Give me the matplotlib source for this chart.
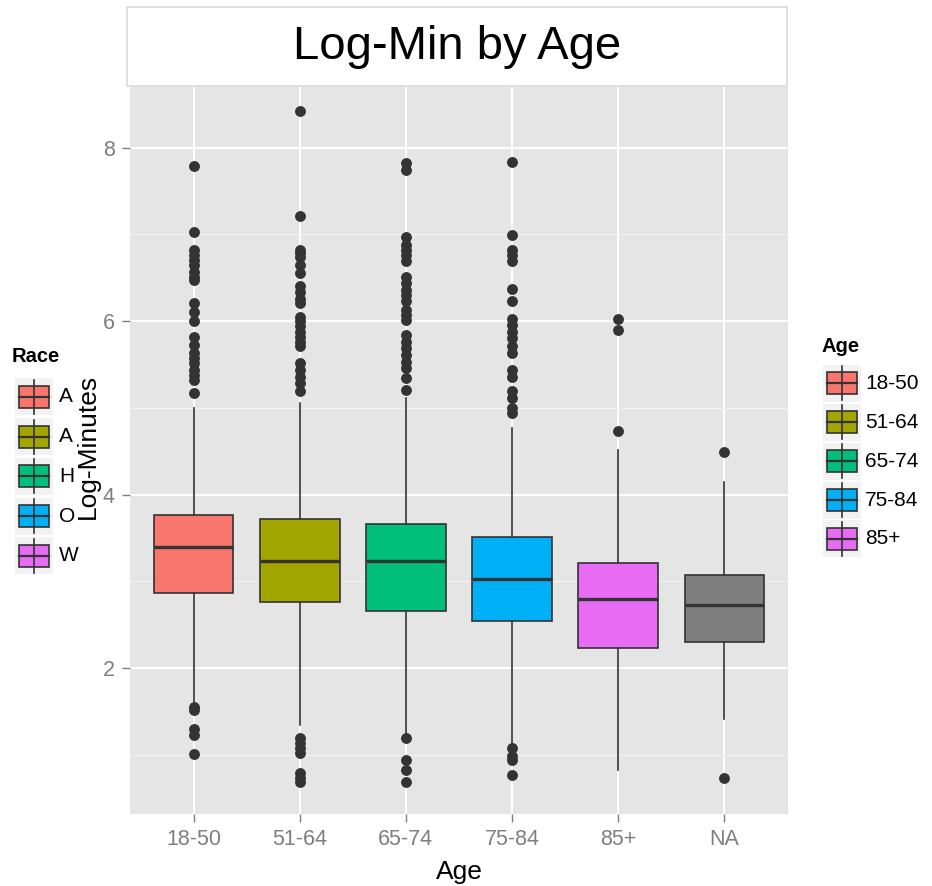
import matplotlib
matplotlib.use("Agg")
import matplotlib.pyplot as plt
from matplotlib.patches import Rectangle
from matplotlib.ticker import FixedLocator

plt.rcParams['font.family'] = ['Liberation Sans', 'DejaVu Sans']

# ---------------- data ----------------
categories = ["18-50", "51-64", "65-74", "75-84", "85+", "NA"]
q1 = [2.87, 2.76, 2.66, 2.54, 2.23, 2.30]
median = [3.40, 3.23, 3.23, 3.03, 2.79, 2.73]
q3 = [3.76, 3.72, 3.66, 3.51, 3.21, 3.07]
whisker_low = [1.60, 1.34, 1.25, 1.11, 0.82, 1.41]
whisker_high = [5.00, 5.06, 5.11, 4.77, 4.51, 4.15]

outliers_18_50 = [7.79, 7.03, 6.82, 6.76, 6.70, 6.65, 6.57, 6.51, 6.48, 6.21, 6.11, 6.00,
                  5.82, 5.72, 5.63, 5.57, 5.52, 5.44, 5.38, 5.32, 5.17,
                  1.55, 1.52, 1.30, 1.23, 1.01]
outliers_51_64 = [8.42, 7.21, 6.82, 6.78, 6.74, 6.65, 6.56, 6.40, 6.34, 6.25, 6.21, 6.05,
                  6.00, 5.94, 5.88, 5.82, 5.76, 5.71, 5.52, 5.44, 5.36, 5.29, 5.19,
                  1.19, 1.13, 1.08, 1.02, 0.79, 0.73, 0.69]
outliers_65_74 = [7.82, 7.74, 6.97, 6.88, 6.82, 6.76, 6.69, 6.51, 6.44, 6.36, 6.30, 6.23,
                  6.13, 6.07, 6.01, 5.84, 5.76, 5.69, 5.61, 5.53, 5.46, 5.34, 5.21,
                  1.19, 0.94, 0.82, 0.69]
outliers_75_84 = [7.84, 6.99, 6.82, 6.76, 6.69, 6.37, 6.23, 6.03, 5.96, 5.88, 5.80, 5.71,
                  5.63, 5.44, 5.36, 5.19, 5.11, 5.00, 4.94,
                  1.08, 0.98, 0.94, 0.76]
outliers_85 = [6.02, 5.90, 4.73]
outliers_NA = [4.49, 0.73]
outliers = [outliers_18_50, outliers_51_64, outliers_65_74, outliers_75_84, outliers_85, outliers_NA]

box_colors = ["#F8766D", "#A3A500", "#00BF7D", "#00B0F6", "#E76BF3", "#7F7F7F"]

# Race legend labels are cut off in the reference; only the visible part is kept
race_labels = ["A", "A", "H", "O", "W"]
race_colors = ["#F8766D", "#A3A500", "#00BF7D", "#00B0F6", "#E76BF3"]
age_legend_labels = ["18-50", "51-64", "65-74", "75-84", "85+"]

y_ticks = [2, 4, 6, 8]
y_minor = [1, 3, 5, 7]

# ---------------- figure ----------------
W, H = 932, 886
fig = plt.figure(figsize=(W / 100, H / 100), dpi=100)

# overlay axes in pixel coordinates for title box & legends
lax = fig.add_axes([0, 0, 1, 1])
lax.set_xlim(0, W)
lax.set_ylim(H, 0)
lax.axis('off')
lax.set_zorder(1)

px_l, px_r, px_t, px_b = 130, 788, 87, 814
ax = fig.add_axes([px_l / W, 1 - px_b / H, (px_r - px_l) / W, (px_b - px_t) / H])
ax.set_zorder(2)
ax.set_facecolor("#E5E5E5")

stats = []
for i, c in enumerate(categories):
    stats.append(dict(label=c, q1=q1[i], med=median[i], q3=q3[i],
                      whislo=whisker_low[i], whishi=whisker_high[i], fliers=outliers[i]))

positions = list(range(1, len(categories) + 1))
bp = ax.bxp(stats, positions=positions, widths=0.75, patch_artist=True, showcaps=False,
            boxprops=dict(edgecolor="#333333", linewidth=1.2),
            medianprops=dict(color="#333333", linewidth=2.4),
            whiskerprops=dict(color="#333333", linewidth=1.2),
            flierprops=dict(marker='o', markerfacecolor="#333333", markeredgecolor="#333333",
                            markersize=6.8, linestyle='none'))
for patch, col in zip(bp['boxes'], box_colors):
    patch.set_facecolor(col)

ax.set_xlim(0.4, 6.6)
ax.set_ylim(0.316, 8.70)
ax.set_xticks(positions)
ax.set_xticklabels(categories)
ax.set_yticks(y_ticks)
ax.yaxis.set_minor_locator(FixedLocator(y_minor))
ax.set_axisbelow(True)
ax.grid(True, which='major', color='white', linewidth=1.4)
ax.grid(True, which='minor', axis='y', color='#F2F2F2', linewidth=0.8)
for s in ax.spines.values():
    s.set_visible(False)
ax.tick_params(axis='both', which='major', colors='#7F7F7F', labelsize=15.5,
               length=6, width=1.0, pad=5)
ax.tick_params(axis='both', which='minor', length=0)

ax.set_xlabel("Age", fontsize=19, color='black')
ax.xaxis.label.set_va('center')
ax.xaxis.set_label_coords(0.5, (px_b - 872) / (px_b - px_t))
ax.set_ylabel("Log-Minutes", fontsize=19, color='black')
ax.yaxis.label.set_va('center')
ax.yaxis.set_label_coords((88 - px_l) / (px_r - px_l), (px_b - 446) / (px_b - px_t))

# ---------------- title box ----------------
lax.add_patch(Rectangle((127, 7), 660, 79, facecolor='white', edgecolor='#D9D9D9', linewidth=1.2))
lax.text(457, 47, "Log-Min by Age", fontsize=34, ha='center', va='center', color='black')


def draw_key(x0, cy, color):
    lax.add_patch(Rectangle((x0, cy - 18.5), 38, 37, facecolor='#F2F2F2', edgecolor='none'))
    cx = x0 + 19
    lax.plot([cx, cx], [cy - 17, cy + 17], color='#333333', linewidth=1.2)
    lax.add_patch(Rectangle((x0 + 4, cy - 11), 30, 22, facecolor=color, edgecolor='#333333',
                            linewidth=1.2))
    lax.plot([x0 + 4, x0 + 34], [cy, cy], color='#333333', linewidth=1.6)


# ---------------- left legend (Race) ----------------
lax.text(12, 357, "Race", fontsize=14.5, fontweight='bold', ha='left', va='center')
race_rows = [396.7, 436.5, 476.3, 516.1, 555.9]
for cy, lab, col in zip(race_rows, race_labels, race_colors):
    draw_key(15, cy, col)
    lax.text(59, cy, lab, fontsize=15, ha='left', va='center', color='black')

# ---------------- right legend (Age) ----------------
lax.text(822, 347, "Age", fontsize=14.5, fontweight='bold', ha='left', va='center')
age_rows = [383.3, 422.2, 461.1, 500.0, 538.9]
for cy, lab, col in zip(age_rows, age_legend_labels, box_colors[:5]):
    draw_key(823, cy, col)
    lax.text(865, cy, lab, fontsize=15, ha='left', va='center', color='black')

fig.savefig("out.png", dpi=100, facecolor='white')
